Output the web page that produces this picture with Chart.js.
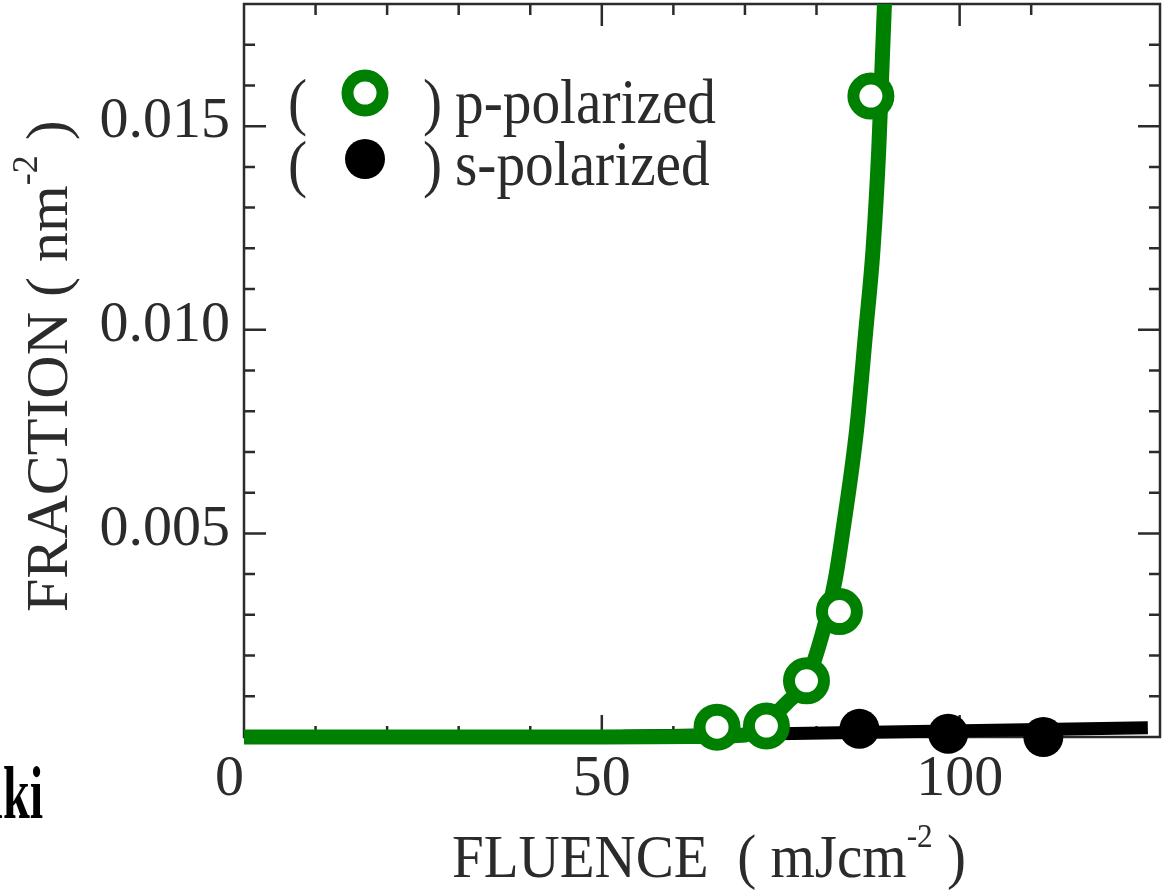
<!DOCTYPE html>
<html>
<head>
<meta charset="utf-8">
<script src="https://cdn.jsdelivr.net/npm/chart.js@4/dist/chart.umd.min.js"></script>
<style>
  html, body { margin: 0; padding: 0; background: #fff; }
  #wrap { width: 1163px; height: 894px; }
</style>
</head>
<body>
<div id="wrap"><canvas id="c" width="1163" height="894"></canvas></div>
<script>
// Measured points, p-polarized (open green rings)
const fluenceP  = [66.1, 73.0, 78.6, 83.2, 87.6];
const fractionP = [0.00024, 0.00027, 0.00138, 0.00308, 0.01574];

// Measured points, s-polarized (filled black dots)
const fluenceS  = [86.0, 98.4, 111.7];
const fractionS = [0.00020, 0.00008, 0.00000];

// Fitted curve through the p-polarized data
const fitFluenceP  = [0, 30, 50, 62.8, 69.6, 73.0, 75.8, 78.6, 80.7, 82.6, 83.7, 85.6, 86.9, 87.9, 88.7, 89.0, 89.5];
const fitFractionP = [0, 0, 0, 0.000015, 0.00004, 0.00036, 0.00083, 0.00139, 0.00246, 0.00385, 0.00508, 0.00754, 0.01000, 0.01197, 0.01443, 0.01576, 0.01802];

// Linear fit through the s-polarized data
const fitFluenceS  = [53.0, 126.3];
const fitFractionS = [0.00002, 0.000226];

// Axis ranges and labelled ticks
const xRange = [0, 128];
const yRange = [0, 0.018];
const xTickLabels = { 0: '0  ', 50: '50', 100: '100' };
const yTickLabels = { 5: '0.005', 10: '0.010', 15: '0.015' }; // keyed in units of 0.001

const GREEN = '#008000';
const INK = '#2b2b2b';
const SERIF = "'Liberation Serif', 'Times New Roman', serif";

const toXY = (xs, ys) => xs.map((v, i) => ({ x: v, y: ys[i] }));

// Draws a run of text pieces (with optional superscripts) starting at x0 on baseline y0
function drawRun(ctx, parts, x0, y0, sx) {
  let x = x0;
  parts.forEach(p => {
    ctx.font = `${p.bold ? 'bold ' : ''}${p.size}px ${SERIF}`;
    ctx.save();
    ctx.translate(x, y0 - (p.rise || 0));
    ctx.scale(sx, 1);
    ctx.fillText(p.t, 0, 0);
    ctx.restore();
    x += ctx.measureText(p.t).width * sx;
  });
}

// Scales keep the plot box fixed: no extra room reserved for edge labels
function fixBox(s, size) {
  if (s.isHorizontal()) s.height = size; else s.width = size;
  s.paddingTop = 0; s.paddingBottom = 0; s.paddingLeft = 0; s.paddingRight = 0;
}

// Frame around the plot plus inward-pointing major/minor ticks on all four sides
const frameTicks = {
  id: 'frameTicks',
  beforeDatasetsDraw(chart) {
    const { ctx, chartArea: a, scales: { x, y } } = chart;
    ctx.save();
    ctx.strokeStyle = INK;
    ctx.lineWidth = 2.5;
    ctx.strokeRect(a.left, a.top, a.right - a.left, a.bottom - a.top);
    ctx.beginPath();
    x.ticks.forEach(t => {
      const k = Math.round(t.value / 10);
      if (Math.abs(t.value - k * 10) > 1e-6 || t.value <= x.min || t.value >= x.max) return;
      const len = k % 5 === 0 ? 22 : 11;
      const px = x.getPixelForValue(t.value);
      ctx.moveTo(px, a.bottom); ctx.lineTo(px, a.bottom - len);
      ctx.moveTo(px, a.top);    ctx.lineTo(px, a.top + len);
    });
    y.ticks.forEach(t => {
      const k = Math.round(t.value * 1000);
      if (Math.abs(t.value - k / 1000) > 1e-9 || k <= 0 || k >= 18) return;
      const len = k % 5 === 0 ? 22 : 11;
      const py = y.getPixelForValue(t.value);
      ctx.moveTo(a.left, py);  ctx.lineTo(a.left + len, py);
      ctx.moveTo(a.right, py); ctx.lineTo(a.right - len, py);
    });
    ctx.stroke();
    ctx.restore();
  }
};

// Axis titles with superscripts, the bracketed legend, and the stray caption fragment
const annotations = {
  id: 'annotations',
  afterDraw(chart) {
    const { ctx, chartArea: a } = chart;
    const ds = chart.data.datasets;
    ctx.save();
    ctx.fillStyle = INK;
    ctx.textAlign = 'left';
    ctx.textBaseline = 'alphabetic';

    // x-axis title
    drawRun(ctx, [
      { t: 'FLUENCE  ( mJcm', size: 62 },
      { t: '-2', size: 34, rise: 30 },
      { t: ' )', size: 62 }
    ], a.left + 208, 877, 0.92);

    // y-axis title (reads bottom to top)
    ctx.save();
    ctx.translate(67, 612);
    ctx.rotate(-Math.PI / 2);
    drawRun(ctx, [
      { t: 'FRACTION ( nm', size: 60 },
      { t: '-2', size: 36, rise: 30 },
      { t: ' )', size: 60 }
    ], 0, 0, 1.0);
    ctx.restore();

    // legend
    const rows = [
      { label: 'p-polarized', base: 123, cy: 93, d: ds[0] },
      { label: 's-polarized', base: 185, cy: 159, d: ds[2] }
    ];
    rows.forEach(r => {
      ctx.fillStyle = INK;
      drawRun(ctx, [{ t: '(', size: 63 }], 288, r.base, 0.91);
      drawRun(ctx, [{ t: ')', size: 63 }], 423, r.base, 0.91);
      drawRun(ctx, [{ t: r.label, size: 63 }], 455, r.base, 0.91);
      ctx.beginPath();
      ctx.arc(365, r.cy, r.d.pointRadius, 0, Math.PI * 2);
      ctx.fillStyle = r.d.pointBackgroundColor;
      ctx.fill();
      if (r.d.pointBorderWidth > 0) {
        ctx.lineWidth = r.d.pointBorderWidth;
        ctx.strokeStyle = r.d.pointBorderColor;
        ctx.stroke();
      }
    });

    // clipped caption at the lower-left edge
    ctx.fillStyle = '#000';
    ctx.save();
    ctx.translate(43, 818);
    ctx.scale(0.65, 1);
    ctx.textAlign = 'right';
    ctx.font = `bold 74px ${SERIF}`;
    ctx.fillText('aki', 0, 0);
    ctx.restore();

    ctx.restore();
  }
};

new Chart(document.getElementById('c'), {
  type: 'scatter',
  data: {
    datasets: [
      {
        label: 'p-polarized',
        data: toXY(fluenceP, fractionP),
        showLine: false,
        pointRadius: 17.5,
        pointBorderWidth: 12,
        pointBackgroundColor: '#ffffff',
        pointBorderColor: GREEN,
        clip: false
      },
      {
        label: 'p-polarized fit',
        data: toXY(fitFluenceP, fitFractionP),
        showLine: true,
        borderColor: GREEN,
        borderWidth: 15,
        pointRadius: 0,
        cubicInterpolationMode: 'monotone',
        borderJoinStyle: 'round',
        clip: { left: 10, right: 10, top: 0, bottom: 20 }
      },
      {
        label: 's-polarized',
        data: toXY(fluenceS, fractionS),
        showLine: false,
        pointRadius: 20,
        pointBorderWidth: 0,
        pointBackgroundColor: '#000000',
        pointBorderColor: '#000000',
        clip: false
      },
      {
        label: 's-polarized fit',
        data: toXY(fitFluenceS, fitFractionS),
        showLine: true,
        borderColor: '#000000',
        borderWidth: 13,
        borderCapStyle: 'butt',
        pointRadius: 0,
        clip: false
      }
    ]
  },
  options: {
    responsive: false,
    devicePixelRatio: 1,
    animation: false,
    events: [],
    layout: { autoPadding: false, padding: { top: 4, right: 3, left: 0, bottom: 0 } },
    plugins: { legend: { display: false }, tooltip: { enabled: false } },
    scales: {
      x: {
        type: 'linear',
        min: xRange[0], max: xRange[1],
        grid: { display: false, drawTicks: false },
        border: { display: false },
        ticks: {
          stepSize: 10,
          autoSkip: false,
          maxRotation: 0,
          padding: 8,
          color: INK,
          font: { family: SERIF, size: 58 },
          callback: v => {
            const k = Math.round(v);
            return Math.abs(v - k) < 1e-6 && xTickLabels[k] !== undefined ? xTickLabels[k] : '';
          }
        },
        afterFit: s => fixBox(s, 157)
      },
      y: {
        type: 'linear',
        min: yRange[0], max: yRange[1],
        grid: { display: false, drawTicks: false },
        border: { display: false },
        ticks: {
          stepSize: 0.001,
          autoSkip: false,
          padding: 14,
          labelOffset: -4,
          color: INK,
          font: { family: SERIF, size: 58 },
          callback: v => {
            const k = Math.round(v * 1000);
            return Math.abs(v * 1000 - k) < 1e-6 && yTickLabels[k] !== undefined ? yTickLabels[k] : '';
          }
        },
        afterFit: s => fixBox(s, 244)
      }
    }
  },
  plugins: [frameTicks, annotations]
});
</script>
</body>
</html>
